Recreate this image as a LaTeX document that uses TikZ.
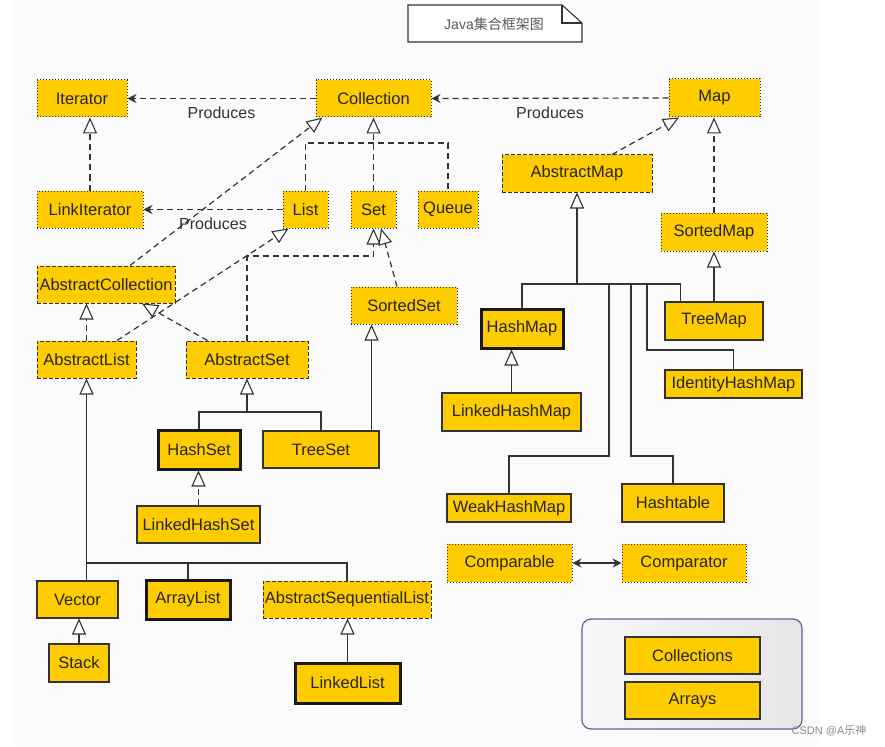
\documentclass[tikz,border=0pt]{standalone}
\usepackage{fontspec}
\setmainfont{Liberation Sans}
\newfontfamily\cjk{Noto Sans CJK SC}
\usetikzlibrary{arrows.meta,calc}
\definecolor{boxfill}{RGB}{255,204,0}
\definecolor{edge}{RGB}{51,51,51}
\definecolor{grpborder}{RGB}{90,104,150}
\begin{document}
\begin{tikzpicture}[x=1pt,y=-1pt,
  box/.style={fill=boxfill, draw=edge, inner sep=0pt, text=black!85,
    font=\fontsize{16.5}{19}\selectfont},
  iface/.style={box, line width=1pt, dash pattern=on 1.2pt off 1.8pt},
  abst/.style={box, line width=1pt, dash pattern=on 4pt off 2pt},
  cls/.style={box, line width=1.1pt},
  keycls/.style={box, line width=3pt, draw=black!90},
  dl/.style={draw=edge, line width=1.2pt, dash pattern=on 6pt off 4pt},
  sl/.style={draw=edge, line width=1.2pt},
  inh/.style={-{Triangle[open, length=16pt, width=14pt, fill=white, line width=1.1pt]}},
  prod/.style={-{Stealth[length=9pt, width=9pt, inset=3pt]}},
  lbl/.style={inner sep=0pt, text=black!80, font=\fontsize{16}{18}\selectfont}
]
\useasboundingbox (0,0) rectangle (885,746);
\fill[gray!3] (12,0) rectangle (820,746);

% title note
\draw[edge, line width=1.1pt, fill=white] (408,5) -- (562,5) -- (582,23) -- (582,42) -- (408,42) -- cycle;
\draw[edge, line width=1.1pt] (562,5) -- (562,23) -- (582,23);
\node[inner sep=0pt, text=black!65, font=\fontsize{14}{16}\selectfont] (title) at (494,24) {Java{\cjk 集合框架图}};

% interfaces
\node[iface, minimum width=90pt, minimum height=37pt] (Iterator) at (82,98.5) {Iterator};
\node[iface, minimum width=115pt, minimum height=37pt] (Collection) at (373.5,98.5) {Collection};
\node[iface, minimum width=91pt, minimum height=38pt] (Map) at (714.5,98) {Map};
\node[iface, minimum width=106pt, minimum height=38pt] (SortedMap) at (714,232) {SortedMap};
\node[iface, minimum width=106pt, minimum height=37pt] (LinkIterator) at (90,209.5) {LinkIterator};
\node[iface, minimum width=45pt, minimum height=37pt] (List) at (305.5,209.5) {List};
\node[iface, minimum width=45pt, minimum height=37pt] (Set) at (373.5,209.5) {Set};
\node[iface, minimum width=60pt, minimum height=37pt] (Queue) at (448,209.5) {Queue};
\node[iface, minimum width=106pt, minimum height=37pt] (SortedSet) at (404,305.5) {SortedSet};
\node[iface, minimum width=125pt, minimum height=38pt] (Comparable) at (509.5,563) {Comparable};
\node[iface, minimum width=124pt, minimum height=38pt] (Comparator) at (684,563) {Comparator};

% abstract classes
\node[abst, minimum width=150pt, minimum height=37pt] (AbstractMap) at (577,173.5) {AbstractMap};
\node[abst, minimum width=138pt, minimum height=37pt] (AbstractCollection) at (106,284.5) {AbstractCollection};
\node[abst, minimum width=99pt, minimum height=37pt] (AbstractList) at (86.5,359.5) {AbstractList};
\node[abst, minimum width=122pt, minimum height=37pt] (AbstractSet) at (247,359.5) {AbstractSet};
\node[abst, minimum width=168pt, minimum height=37pt] (AbstractSequentialList) at (347,599.5) {AbstractSequentialList};

% classes
\node[keycls, minimum width=82pt, minimum height=39pt] (HashSet) at (199,449.5) {HashSet};
\node[cls, minimum width=116pt, minimum height=37pt] (TreeSet) at (321,449.5) {TreeSet};
\node[cls, minimum width=123pt, minimum height=37pt] (LinkedHashSet) at (198.5,524.5) {LinkedHashSet};
\node[keycls, minimum width=82pt, minimum height=39pt] (HashMap) at (522,328.5) {HashMap};
\node[cls, minimum width=98pt, minimum height=38pt] (TreeMap) at (714,321) {TreeMap};
\node[cls, minimum width=137pt, minimum height=28pt] (IdentityHashMap) at (733.5,384) {IdentityHashMap};
\node[cls, minimum width=139pt, minimum height=38pt] (LinkedHashMap) at (511.5,412) {LinkedHashMap};
\node[cls, minimum width=124pt, minimum height=28pt] (WeakHashMap) at (509,508) {WeakHashMap};
\node[cls, minimum width=102pt, minimum height=38pt] (Hashtable) at (673,503) {Hashtable};
\node[cls, minimum width=81pt, minimum height=37pt] (Vector) at (77.5,599.5) {Vector};
\node[keycls, minimum width=84pt, minimum height=39pt] (ArrayList) at (188,599.5) {ArrayList};
\node[cls, minimum width=60pt, minimum height=38pt] (Stack) at (79,663) {Stack};
\node[keycls, minimum width=105pt, minimum height=40pt] (LinkedList) at (347.5,683) {LinkedList};

% utility group
\node[draw=grpborder, line width=1.2pt, rounded corners=9pt, left color=gray!6, right color=gray!20,
  minimum width=220pt, minimum height=110pt, inner sep=0pt] (group) at (692,674) {};
\node[cls, minimum width=135pt, minimum height=37pt] (Collections) at (692.5,655.5) {Collections};
\node[cls, minimum width=135pt, minimum height=37pt] (Arrays) at (692.5,700.5) {Arrays};

% Produces
\draw[dl,prod] (Collection.west) -- node[lbl, below=8pt] {Produces} (Iterator.east);
\draw[dl,prod] (Map.west) -- node[lbl, below=8pt] {Produces} (Collection.east);
\draw[dl,prod] (List.west) -- node[lbl, below=7.5pt] {Produces} (LinkIterator.east);

% interface inheritance
\draw[dl,inh] (LinkIterator.north) -- (LinkIterator.north |- Iterator.south);
\coordinate (cbar) at (0,143);
\draw[dl] (List.north) -- (List.north |- cbar) -- (Queue.north |- cbar) -- (Queue.north);
\draw[dl,inh] (Set.north) -- (Collection.south);
\draw[dl,inh] ($(AbstractCollection.north)+(24,0)$) -- ($(Collection.south west)+(7,0)$);
\draw[dl,inh] ($(AbstractList.north)+(30.5,0)$) -- ($(List.south west)+(6,0)$);
\coordinate (sbar) at (0,256);
\draw[dl,inh] (AbstractSet.north) -- (AbstractSet.north |- sbar) -| (Set.south);
\draw[dl,inh] ($(SortedSet.north)+(-7,0)$) -- ($(Set.south)+(7.5,0)$);
\draw[dl,inh] ($(AbstractSet.north west)+(22,0)$) -- ($(AbstractCollection.south)+(36,0)$);
\draw[dl,inh] (AbstractList.north) -- (AbstractList.north |- AbstractCollection.south);
\draw[dl,inh] ($(AbstractMap.north)+(35,0)$) -- ($(Map.south)+(-35.5,0)$);
\draw[dl,inh] (SortedMap.north) -- (SortedMap.north |- Map.south);
\draw[sl,inh] (TreeMap.north) -- (TreeMap.north |- SortedMap.south);

% map tree
\coordinate (mbar) at (0,284);
\coordinate (tm) at ($(TreeMap.north west)+(16,0)$);
\draw[sl,inh] (AbstractMap.south |- mbar) -- (AbstractMap.south);
\draw[sl] (HashMap.north) -- (HashMap.north |- mbar) -- (tm |- mbar) -- (tm);
\coordinate (jw) at (609,284);
\coordinate (jh) at (631,284);
\coordinate (ji) at (647,284);
\draw[sl] (jw) -- (609,456) -| (WeakHashMap.north);
\draw[sl] (jh) -- (631,456) -| (Hashtable.north);
\draw[sl] (ji) -- (647,350) -| (IdentityHashMap.north);
\draw[sl,inh] (LinkedHashMap.north) -- (LinkedHashMap.north |- HashMap.south);

% set tree
\coordinate (asbar) at (0,412);
\draw[sl,inh] (AbstractSet.south |- asbar) -- (AbstractSet.south);
\draw[sl] (HashSet.north) -- (HashSet.north |- asbar) -- (TreeSet.north |- asbar) -- (TreeSet.north);
\coordinate (ts) at ($(TreeSet.north east)+(-8,0)$);
\draw[sl,inh] (ts) -- (ts |- SortedSet.south);
\draw[dl,inh] (LinkedHashSet.north) -- (LinkedHashSet.north |- HashSet.south);

% list tree
\coordinate (albar) at (0,563);
\draw[sl,inh] (AbstractList.south |- albar) -- (AbstractList.south);
\draw[sl] (AbstractList.south |- Vector.north) -- (AbstractList.south |- albar) -- (AbstractSequentialList.north |- albar) -- (AbstractSequentialList.north);
\draw[sl] (ArrayList.north) -- (ArrayList.north |- albar);
\draw[sl,inh] (Stack.north) -- (Stack.north |- Vector.south);
\draw[sl,inh] (LinkedList.north) -- (LinkedList.north |- AbstractSequentialList.south);

% comparable
\draw[sl,{Stealth[length=9pt, width=9pt, inset=3pt]}-{Stealth[length=9pt, width=9pt, inset=3pt]}] (Comparable.east) -- (Comparator.west);

% watermark
\node[inner sep=0pt, text=black!45, font=\fontsize{11}{13}\selectfont] (wm) at (829,731) {CSDN @A{\cjk 乐神}};
\end{tikzpicture}
\end{document}
